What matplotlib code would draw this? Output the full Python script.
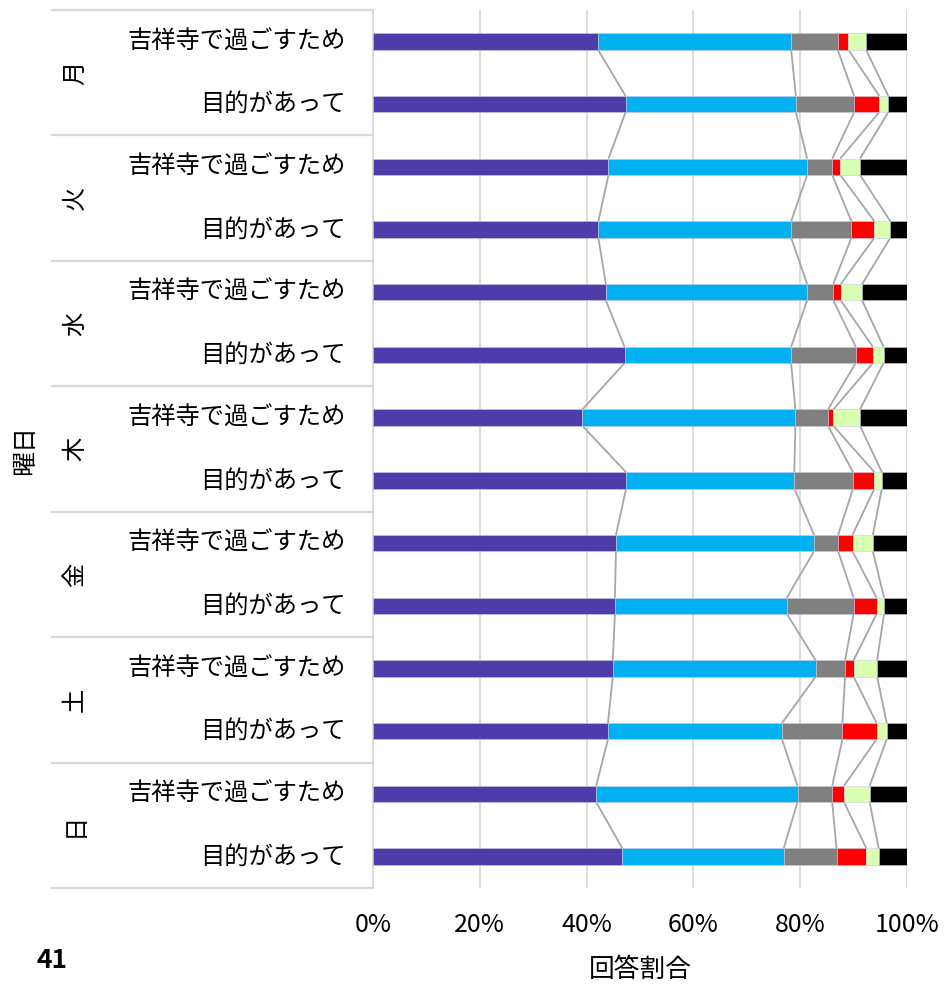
import matplotlib
matplotlib.use("Agg")
import matplotlib.pyplot as plt
from matplotlib.transforms import blended_transform_factory
from matplotlib.lines import Line2D
import numpy as np

plt.rcParams['font.family'] = ['Noto Sans CJK JP', 'DejaVu Sans']

days = ["月", "火", "水", "木", "金", "土", "日"]
purposes = ["吉祥寺で過ごすため", "目的があって"]
# segment values (%) per bar, in order 月-吉祥寺, 月-目的, 火-吉祥寺, ...
seg1 = [42.1, 47.3, 44.1, 42.2, 43.6, 47.1, 39.2, 47.4, 45.5, 45.3, 44.9, 44.0, 41.8, 46.7]
seg2 = [36.2, 31.9, 37.2, 36.1, 37.7, 31.2, 39.9, 31.5, 37.1, 32.2, 38.0, 32.6, 37.7, 30.2]
seg3 = [8.7, 10.9, 4.7, 11.3, 4.9, 12.1, 6.1, 11.0, 4.5, 12.5, 5.5, 11.3, 6.5, 9.9]
seg4 = [2.0, 4.7, 1.5, 4.3, 1.4, 3.2, 1.0, 4.0, 2.7, 4.3, 1.6, 6.4, 2.2, 5.6]
seg5 = [3.3, 1.7, 3.7, 3.0, 4.0, 2.0, 5.0, 1.4, 3.8, 1.4, 4.4, 1.9, 4.8, 2.3]
seg6 = [7.7, 3.5, 8.8, 3.1, 8.4, 4.4, 8.8, 4.7, 6.4, 4.3, 5.6, 3.8, 7.0, 5.3]
seg_colors = ["#4F3CAB", "#00B0F0", "#808080", "#FF0000", "#D9FFB0", "#000000"]
xticks = [0, 20, 40, 60, 80, 100]
xtick_labels = ["0%", "20%", "40%", "60%", "80%", "100%"]

W, H = 945, 986
fig = plt.figure(figsize=(W / 100, H / 100), dpi=100)
ax_left, ax_right, ax_top, ax_bot = 373, 907, 10, 888
ax = fig.add_axes([ax_left / W, 1 - ax_bot / H, (ax_right - ax_left) / W, (ax_bot - ax_top) / H])

segs = np.array([seg1, seg2, seg3, seg4, seg5, seg6])
segs = segs / segs.sum(axis=0) * 100
n = segs.shape[1]
ypos = np.arange(n) + 0.5
bh = 0.26
left = np.zeros(n)
for i in range(6):
    ax.barh(ypos, segs[i], left=left, height=bh, color=seg_colors[i],
            edgecolor="#C8C8E0", linewidth=0.4, zorder=3)
    left = left + segs[i]

cum = np.cumsum(segs, axis=0)
for k in range(n - 1):
    for j in range(5):
        ax.plot([cum[j, k], cum[j, k + 1]], [ypos[k] + bh / 2, ypos[k + 1] - bh / 2],
                color="#A6A6A6", lw=1.3, zorder=2, solid_capstyle="butt")

ax.set_xlim(0, 100)
ax.set_ylim(n, 0)
ax.set_xticks(xticks)
ax.set_xticklabels(xtick_labels, fontsize=18)
ax.set_yticks([])
ax.tick_params(axis="x", length=0, pad=17)
ax.grid(axis="x", color="#D9D9D9", lw=1.3, zorder=0)
for s in ["top", "right", "bottom"]:
    ax.spines[s].set_visible(False)
ax.spines["left"].set_color("#D9D9D9")
ax.spines["left"].set_linewidth(1.3)

# category labels
tr = blended_transform_factory(fig.transFigure, ax.transData)
for k in range(n):
    ax.text(346 / W, ypos[k], purposes[k % 2], transform=tr, ha="right", va="center",
            fontsize=17.5, clip_on=False)
for d in range(len(days)):
    ax.text(75 / W, 2 * d + 1, days[d], transform=tr, ha="center", va="center",
            rotation=90, fontsize=17.5, clip_on=False)
for b in range(len(days) + 1):
    fig.add_artist(Line2D([52 / W, ax_left / W], [2 * b, 2 * b], transform=tr,
                          color="#D9D9D9", lw=1.6))

fig.text(25 / W, 1 - 450 / H, "曜日", rotation=90, ha="center", va="center", fontsize=18)
fig.text(640 / W, 1 - 970 / H, "回答割合", ha="center", va="center", fontsize=18.5)
fig.text(52 / W, 1 - 960 / H, "41", ha="center", va="center", fontsize=19, fontweight="bold")

fig.savefig("out.png", dpi=100)
